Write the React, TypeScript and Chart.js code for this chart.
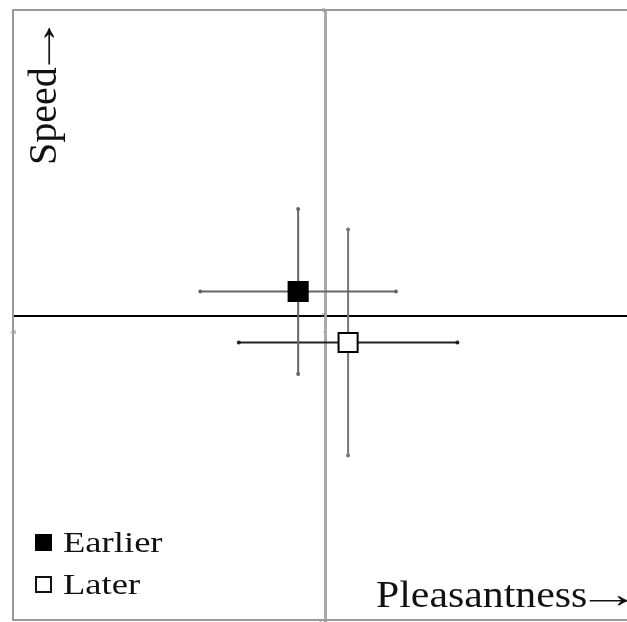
import React, { useEffect, useRef } from 'react';
import { Chart, registerables } from 'chart.js';

Chart.register(...registerables);

// ---- data ----
const categories = ['Earlier', 'Later'];
const pleasantness = [-0.26, 0.22];
const speed = [0.235, -0.265];
const pleasantnessErr = [0.94, 1.05];
const speedErr = [0.81, 1.11];
const xTicks = [-3, 0, 3];
const yTicks = [-3, 0, 3];
const xTitle = 'Pleasantness';
const yTitle = 'Speed';
const arrow = '→';
const xMin = -3;
const xMax = 2.9;
const yMin = -3;
const yMax = 3;

// ---- styles ----
const markerFill = ['#000000', '#ffffff'];
const hBarColor = ['#666666', '#222222'];
const vBarColor = ['#666666', '#777777'];
const SERIF = '"Liberation Serif", "Times New Roman", serif';

function drawTitle(ctx: any, text: string) {
  ctx.fillText(text, 0, 0);
  const w = ctx.measureText(text).width;
  ctx.save();
  ctx.translate(w - 10, 0);
  ctx.scale(1.55, 1);
  ctx.fillText(arrow, 0, 0);
  ctx.restore();
}

const decorPlugin = {
  id: 'decor',
  beforeDatasetsDraw(chart: any) {
    const { ctx, chartArea } = chart;
    ctx.save();
    ctx.strokeStyle = '#9a9a9a';
    ctx.lineWidth = 2;
    ctx.beginPath();
    ctx.moveTo(chart.width, chartArea.top);
    ctx.lineTo(chartArea.left, chartArea.top);
    ctx.lineTo(chartArea.left, chartArea.bottom - 1);
    ctx.lineTo(chart.width, chartArea.bottom - 1);
    ctx.stroke();
    ctx.restore();
  },
  afterDraw(chart: any) {
    const { ctx } = chart;
    ctx.save();
    ctx.fillStyle = '#111';
    ctx.textBaseline = 'alphabetic';
    ctx.textAlign = 'left';

    // x title (bottom right)
    ctx.save();
    ctx.font = `38px ${SERIF}`;
    ctx.translate(376, 607);
    ctx.scale(1.1, 1);
    drawTitle(ctx, xTitle);
    ctx.restore();

    // y title (rotated, top left)
    ctx.save();
    ctx.font = `40px ${SERIF}`;
    ctx.translate(56, 165);
    ctx.rotate(-Math.PI / 2);
    drawTitle(ctx, yTitle);
    ctx.restore();

    // legend (bottom left)
    const rowY = [552, 594];
    categories.forEach((name, i) => {
      const by = rowY[i];
      ctx.save();
      ctx.fillStyle = markerFill[i];
      ctx.fillRect(35, by - 18, 17, 17);
      if (markerFill[i] !== '#000000') {
        ctx.strokeStyle = '#111';
        ctx.lineWidth = 2;
        ctx.strokeRect(36, by - 17, 15, 15);
      }
      ctx.restore();
      ctx.save();
      ctx.font = `30px ${SERIF}`;
      ctx.fillStyle = '#111';
      ctx.translate(63, by);
      ctx.scale(1.22, 1);
      ctx.fillText(name, 0, 0);
      ctx.restore();
    });
    ctx.restore();
  },
};

export default function App() {
  const ref = useRef<HTMLCanvasElement | null>(null);

  useEffect(() => {
    document.body.style.margin = '0';
    const canvas = ref.current;
    if (!canvas) return;

    const pointSets = categories.map((name, i) => ({
      label: name,
      data: [{ x: pleasantness[i], y: speed[i] }],
      showLine: false,
      pointStyle: 'rect',
      pointRadius: 13.5,
      pointHoverRadius: 13.5,
      backgroundColor: markerFill[i],
      borderColor: '#000000',
      borderWidth: 2,
    }));

    const barSets: any[] = [];
    categories.forEach((name, i) => {
      barSets.push({
        label: name + ' pleasantness error',
        data: [
          { x: pleasantness[i] - pleasantnessErr[i], y: speed[i] },
          { x: pleasantness[i] + pleasantnessErr[i], y: speed[i] },
        ],
        showLine: true,
        borderColor: hBarColor[i],
        borderWidth: 2,
        pointRadius: 2,
        pointBackgroundColor: hBarColor[i],
        pointBorderWidth: 0,
      });
      barSets.push({
        label: name + ' speed error',
        data: [
          { x: pleasantness[i], y: speed[i] - speedErr[i] },
          { x: pleasantness[i], y: speed[i] + speedErr[i] },
        ],
        showLine: true,
        borderColor: vBarColor[i],
        borderWidth: 2,
        pointRadius: 2,
        pointBackgroundColor: vBarColor[i],
        pointBorderWidth: 0,
      });
    });

    const chart = new Chart(canvas, {
      type: 'scatter',
      data: { datasets: [...pointSets, ...barSets] as any },
      options: {
        animation: false,
        responsive: false,
        devicePixelRatio: 1,
        layout: { autoPadding: false, padding: { left: 13, top: 10, right: 0, bottom: 1 } } as any,
        plugins: {
          legend: { display: false },
          tooltip: { enabled: false },
        },
        scales: {
          x: {
            type: 'linear',
            min: xMin,
            max: xMax,
            position: { y: 0 } as any,
            afterBuildTicks: (s: any) => {
              s.ticks = xTicks.filter((v) => v >= xMin && v <= xMax).map((v) => ({ value: v }));
            },
            afterFit: (s: any) => {
              s.height = 0;
              s.paddingLeft = 0;
              s.paddingRight = 0;
            },
            grid: { display: true, drawOnChartArea: false, drawTicks: false, color: 'rgba(0,0,0,0)' },
            border: { display: true, color: '#000000', width: 2 },
            ticks: {
              autoSkip: false,
              maxRotation: 0,
              padding: 12,
              color: '#666',
              font: { size: 7, family: SERIF },
            },
          },
          y: {
            type: 'linear',
            min: yMin,
            max: yMax,
            position: { x: 0 } as any,
            afterBuildTicks: (s: any) => {
              s.ticks = yTicks.map((v) => ({ value: v }));
            },
            afterFit: (s: any) => {
              s.width = 0;
              s.paddingTop = 0;
              s.paddingBottom = 0;
            },
            grid: { display: true, drawOnChartArea: false, drawTicks: false, color: 'rgba(0,0,0,0)' },
            border: { display: true, color: '#aaaaaa', width: 3 },
            ticks: {
              autoSkip: false,
              padding: 10,
              color: '#666',
              font: { size: 7, family: SERIF },
            },
          },
        },
      },
      plugins: [decorPlugin],
    });

    return () => chart.destroy();
  }, []);

  return (
    <div style={{ position: 'fixed', left: 0, top: 0, width: 627, height: 622, background: '#fff' }}>
      <canvas ref={ref} width={627} height={622} style={{ display: 'block' }} />
    </div>
  );
}
